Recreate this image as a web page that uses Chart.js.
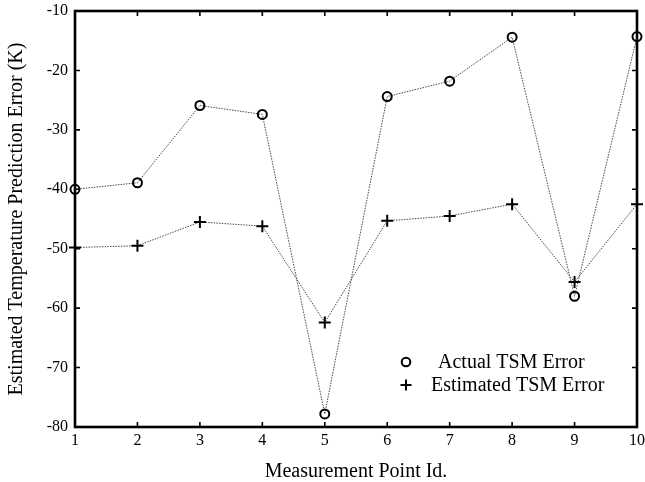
<!DOCTYPE html>
<html>
<head>
<meta charset="utf-8">
<title>Estimated Temperature Prediction Error</title>
<script src="https://cdn.jsdelivr.net/npm/chart.js@4.4.1/dist/chart.umd.min.js"></script>
<style>
    html, body { margin: 0; padding: 0; background: #fff; }
    #chart { display: block; }
</style>
</head>
<body>
<canvas id="chart" width="645" height="482"></canvas>
<script>
// Data
const pointIds = [1, 2, 3, 4, 5, 6, 7, 8, 9, 10];
const actualError = [-40, -38.9, -25.9, -27.4, -77.8, -24.4, -21.8, -14.4, -58, -14.3];
const estimatedError = [-49.8, -49.5, -45.5, -46.2, -62.4, -45.3, -44.5, -42.5, -55.6, -42.5];
const yTicks = [-80, -70, -60, -50, -40, -30, -20, -10];

const serif = "'Liberation Serif', 'Times New Roman', serif";

// Helper to pair ids with values
function toPoints(values) {
    return pointIds.map((id, i) => ({ x: id, y: values[i] }));
}

// Draws the boxed frame with inward ticks on all four sides
const framePlugin = {
    id: "frame",
    beforeDatasetsDraw(chart) {
        const { ctx, chartArea: a, scales } = chart;
        ctx.save();
        ctx.strokeStyle = "#000";
        ctx.lineWidth = 1.6;
        scales.x.ticks.forEach(t => {
            const px = scales.x.getPixelForValue(t.value);
            ctx.beginPath();
            ctx.moveTo(px, a.bottom);
            ctx.lineTo(px, a.bottom - 5);
            ctx.moveTo(px, a.top);
            ctx.lineTo(px, a.top + 5);
            ctx.stroke();
        });
        scales.y.ticks.forEach(t => {
            const py = scales.y.getPixelForValue(t.value);
            ctx.beginPath();
            ctx.moveTo(a.left, py);
            ctx.lineTo(a.left + 5, py);
            ctx.moveTo(a.right, py);
            ctx.lineTo(a.right - 5, py);
            ctx.stroke();
        });
        ctx.lineWidth = 2.6;
        ctx.strokeRect(a.left, a.top, a.right - a.left, a.bottom - a.top);
        ctx.restore();
    },
};

// Legend drawn inside the plot area, lower right
const innerLegend = {
    id: "innerLegend",
    afterDraw(chart) {
        const { ctx, chartArea: a } = chart;
        const rows = [
            { dy: -65, textDx: -199 },
            { dy: -42, textDx: -206 },
        ];
        ctx.save();
        ctx.font = "20px " + serif;
        ctx.fillStyle = "#000";
        ctx.strokeStyle = "#000";
        ctx.lineWidth = 2;
        ctx.textBaseline = "middle";
        chart.data.datasets.forEach((ds, i) => {
            const mx = a.right - 231;
            const my = a.bottom + rows[i].dy;
            ctx.beginPath();
            if (ds.pointStyle === "circle") {
                ctx.arc(mx, my, 4.3, 0, Math.PI * 2);
            } else {
                ctx.moveTo(mx - 5.5, my);
                ctx.lineTo(mx + 5.5, my);
                ctx.moveTo(mx, my - 5.5);
                ctx.lineTo(mx, my + 5.5);
            }
            ctx.stroke();
            ctx.fillText(ds.label, a.right + rows[i].textDx, my + 1);
        });
        ctx.restore();
    },
};

new Chart(document.getElementById("chart"), {
    type: "line",
    data: {
        datasets: [
            {
                label: "Actual TSM Error",
                data: toPoints(actualError),
                borderColor: "#333",
                borderWidth: 0.9,
                borderDash: [1.5, 1.2],
                pointStyle: "circle",
                pointRadius: 4.5,
                pointBorderWidth: 2,
                pointBorderColor: "#000",
                pointBackgroundColor: "rgba(0,0,0,0)",
                tension: 0,
                clip: false,
            },
            {
                label: "Estimated TSM Error",
                data: toPoints(estimatedError),
                borderColor: "#333",
                borderWidth: 0.9,
                borderDash: [1.5, 1.2],
                pointStyle: "cross",
                pointRadius: 6,
                pointBorderWidth: 2,
                pointBorderColor: "#000",
                tension: 0,
                clip: false,
            },
        ],
    },
    options: {
        responsive: false,
        animation: false,
        layout: { padding: { left: 0, right: 6, top: 11, bottom: 0 } },
        plugins: {
            legend: { display: false },
            tooltip: { enabled: false },
        },
        scales: {
            x: {
                type: "linear",
                min: 1,
                max: 10,
                grid: { display: false, drawTicks: false },
                border: { display: false },
                ticks: {
                    stepSize: 1,
                    padding: 4,
                    color: "#000",
                    font: { family: serif, size: 16, lineHeight: 1.2 },
                },
                title: {
                    display: true,
                    text: "Measurement Point Id.",
                    color: "#000",
                    font: { family: serif, size: 20, lineHeight: 1 },
                    padding: { top: 0, bottom: 0 },
                },
                afterFit(scale) {
                    scale.height = 55;
                    scale.paddingLeft = 0;
                    scale.paddingRight = 0;
                },
            },
            y: {
                type: "linear",
                min: -80,
                max: -10,
                grid: { display: false, drawTicks: false },
                border: { display: false },
                afterBuildTicks(scale) {
                    scale.ticks = yTicks.map(v => ({ value: v }));
                },
                ticks: {
                    padding: 7,
                    color: "#000",
                    font: { family: serif, size: 16 },
                },
                title: {
                    display: true,
                    text: "Estimated Temperature Prediction Error (K)",
                    color: "#000",
                    font: { family: serif, size: 20, lineHeight: 1.2 },
                    padding: { top: 5, bottom: 0 },
                },
                afterFit(scale) {
                    scale.width = 75;
                    scale.paddingTop = 0;
                    scale.paddingBottom = 0;
                },
            },
        },
    },
    plugins: [framePlugin, innerLegend],
});
</script>
</body>
</html>
